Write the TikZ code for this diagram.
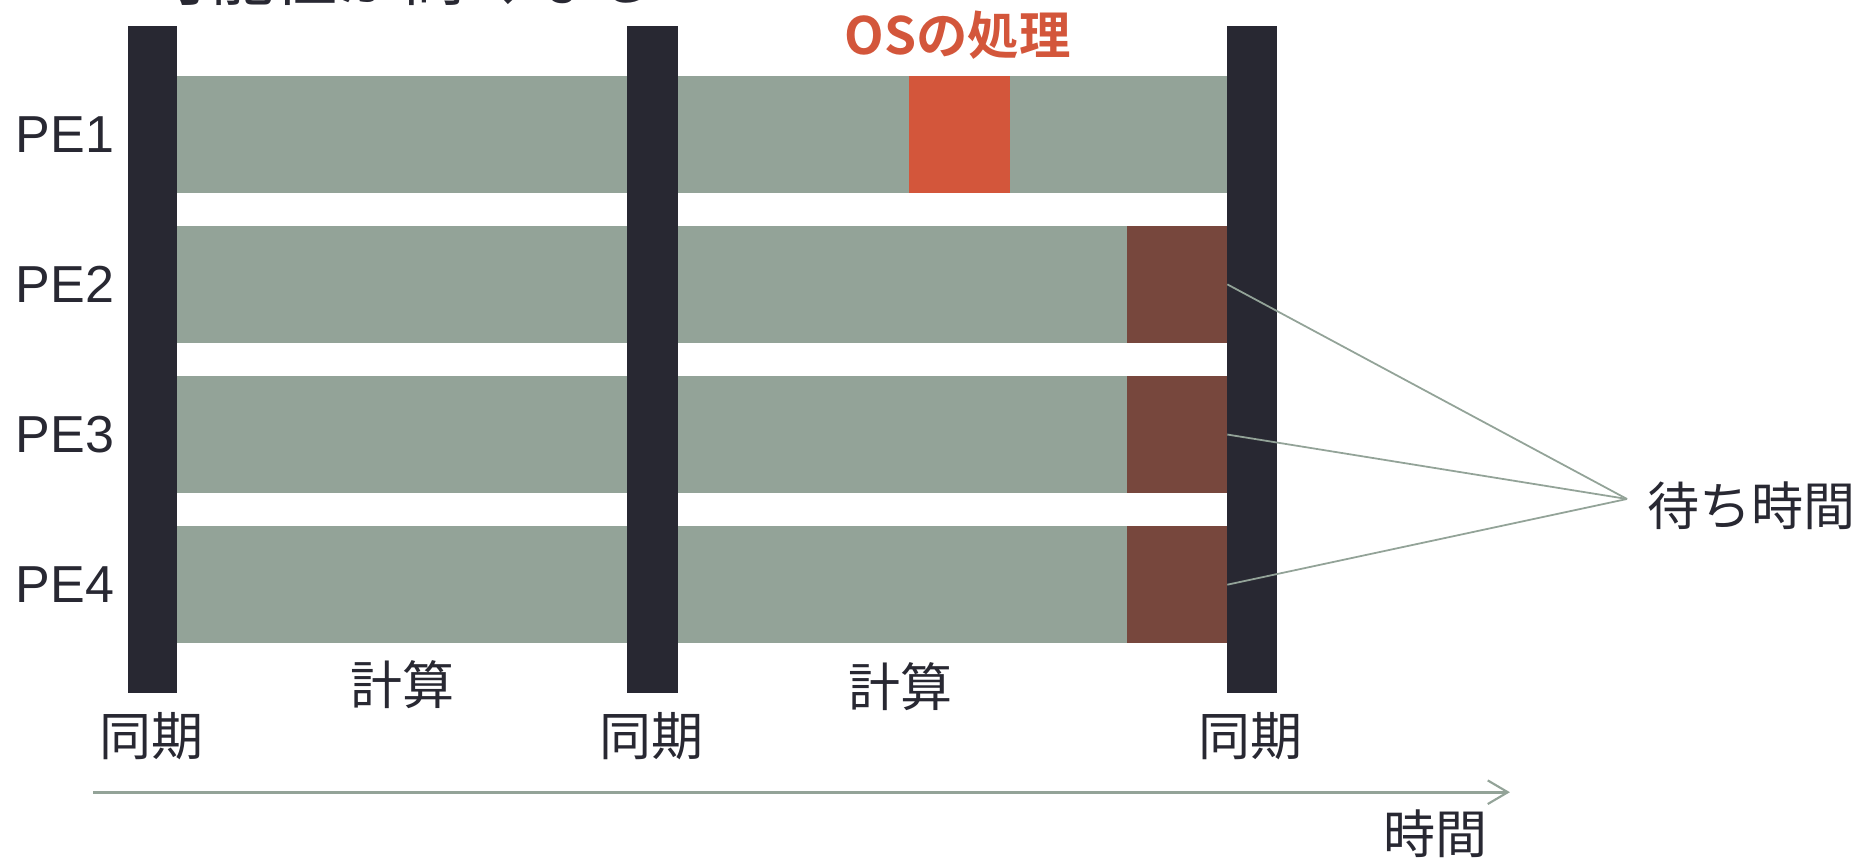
\documentclass[tikz,border=0pt]{standalone}
\usepackage{fontspec}
\setmainfont{Liberation Sans}
\newfontfamily\cjk{Noto Sans CJK JP}[BoldFont={Noto Sans CJK JP Bold}]
\usetikzlibrary{arrows.meta}
\definecolor{gr}{RGB}{147,163,152}
\definecolor{dk}{RGB}{40,40,50}
\definecolor{osred}{RGB}{211,86,59}
\definecolor{brn}{RGB}{119,71,61}
\begin{document}
\begin{tikzpicture}[x=1pt,y=-1pt,
  cell/.style={draw=none, inner sep=0pt, outer sep=0pt, minimum height=99pt},
  barbox/.style={draw=none, fill=dk, inner sep=0pt, outer sep=0pt, minimum height=564pt},
  pe/.style={inner sep=0pt, text=dk, font=\fontsize{44}{50}\selectfont},
  jp/.style={inner sep=0pt, text=dk, font=\cjk\fontsize{44}{50}\selectfont},
  osl/.style={inner sep=0pt, text=osred, font=\cjk\bfseries\fontsize{43.5}{48}\selectfont},
  wl/.style={draw=gr, line width=1.5pt},
  tl/.style={draw=gr, line width=2.4pt, -{Straight Barb[length=17pt, width=20pt, line width=1.8pt]}}]
\useasboundingbox (0,0) rectangle (1568,726);
% rows
\foreach \r/\yc in {1/113.5,2/240.5,3/367.5,4/494.5}{
  \node[cell, fill=gr, minimum width=888pt] (row\r) at (594,\yc) {};
  \node[pe, anchor=west] (pe\r) at (13,\yc) {PE\r};
}
\node[cell, fill=osred, minimum width=85pt] (os) at (811.5,113.5) {};
\foreach \r/\yc in {2/240.5,3/367.5,4/494.5}{
  \node[cell, fill=brn, minimum width=85pt] (w\r) at (995.5,\yc) {};
}
% sync bars
\node[barbox, minimum width=42pt] (bar1) at (129,304) {};
\node[barbox, minimum width=43pt] (bar2) at (551.5,304) {};
\node[barbox, minimum width=42pt] (bar3) at (1059,304) {};
% waiting lines
\coordinate (hub) at (1376,422);
\foreach \r in {2,3,4}{ \draw[wl] (w\r.east) -- (hub); }
% texts
\node[jp] (sync1) at (128,622.5) {同期};
\node[jp] (sync2) at (551,622.5) {同期};
\node[jp] (sync3) at (1058,622.5) {同期};
\node[jp] (calc1) at (340.5,579) {計算};
\node[jp] (calc2) at (762,581) {計算};
\node[jp] (wait) at (1481,428) {待ち時間};
\node[osl] (oslabel) at (810,30) {OSの処理};
\node[jp, font=\cjk\fontsize{54}{60}\selectfont, anchor=base west] (title) at (124,0.5) {可能性が高くなる};
% time axis
\coordinate (ta) at (79,670);
\coordinate (tb) at (1277,670);
\draw[tl] (ta) -- (tb);
\node[jp] (time) at (1214,705) {時間};
\end{tikzpicture}
\end{document}
